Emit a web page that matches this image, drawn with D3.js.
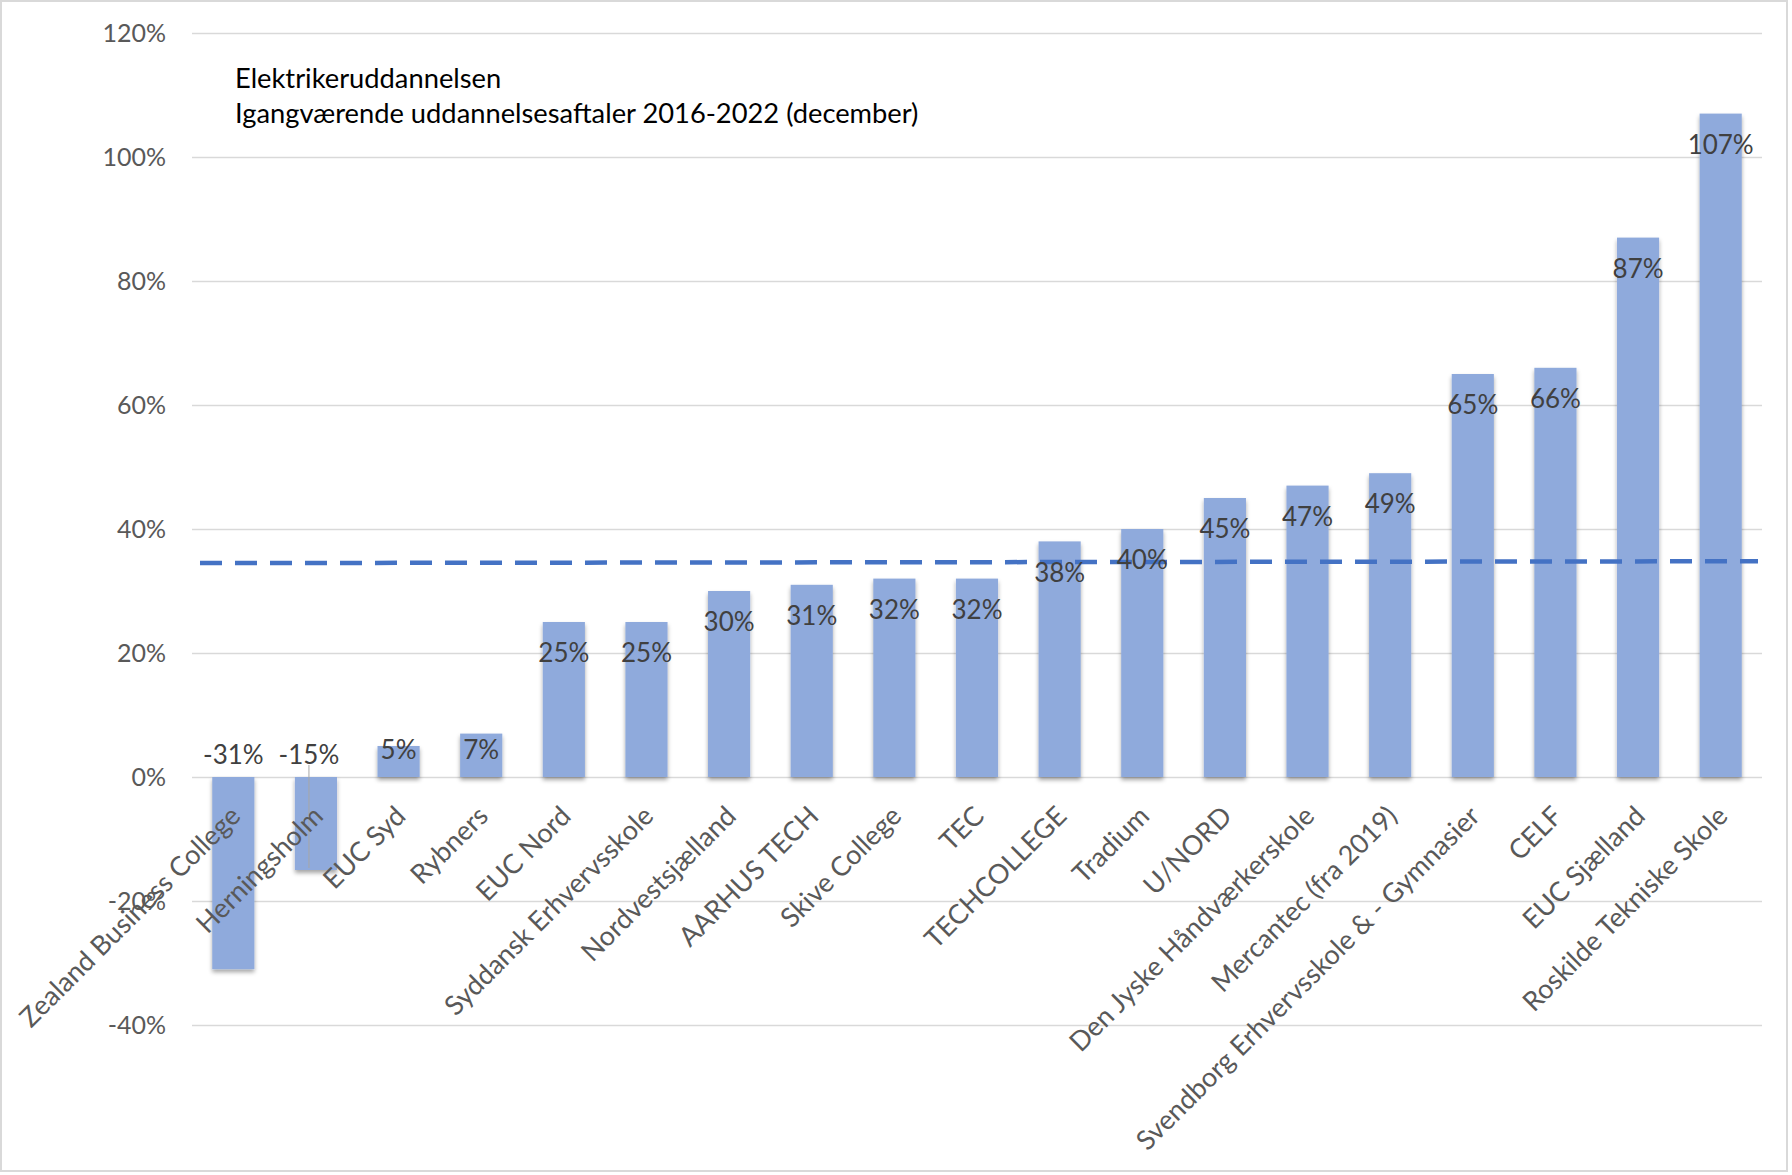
<!DOCTYPE html>
<html>
<head>
<meta charset="utf-8">
<script src="https://cdn.jsdelivr.net/npm/d3@7"></script>
<style>
  body { margin: 0; background: #fff; }
  svg, svg text { font-family: Lato, "Open Sans", sans-serif; }
  svg { display: block; }
</style>
</head>
<body>
<div id="chart"></div>
<script>
var width = 1792,
  height = 1175;

// Data
var categories = ["Zealand Business College", "Herningsholm", "EUC Syd", "Rybners", "EUC Nord",
  "Syddansk Erhvervsskole", "Nordvestsjælland", "AARHUS TECH", "Skive College", "TEC",
  "TECHCOLLEGE", "Tradium", "U/NORD", "Den Jyske Håndværkerskole", "Mercantec (fra 2019)",
  "Svendborg Erhvervsskole & - Gymnasier", "CELF", "EUC Sjælland", "Roskilde Tekniske Skole"];
var values = [-0.31, -0.15, 0.05, 0.07, 0.25, 0.25, 0.30, 0.31, 0.32, 0.32,
  0.38, 0.40, 0.45, 0.47, 0.49, 0.65, 0.66, 0.87, 1.07];
var yTicks = [-0.4, -0.2, 0, 0.2, 0.4, 0.6, 0.8, 1.0, 1.2];
var avgLine = [0.345, 0.348];   // dashed line, left end / right end
var titleLines = ["Elektrikeruddannelsen", "Igangværende uddannelsesaftaler 2016-2022 (december)"];

var margin = { left: 192, right: 30, top: 33, bottom: 150 };

var svg = d3.select("#chart")
  .append("svg")
  .attr("width", width)
  .attr("height", height);

// drop shadow for bars
svg.append("defs").append("filter")
  .attr("id", "shadow")
  .attr("x", "-20%").attr("y", "-20%").attr("width", "140%").attr("height", "140%")
  .append("feDropShadow")
  .attr("dx", 0).attr("dy", 3)
  .attr("stdDeviation", 2)
  .attr("flood-color", "#000")
  .attr("flood-opacity", 0.35);

// outer frame
svg.append("rect")
  .attr("x", 1).attr("y", 1)
  .attr("width", width - 6).attr("height", height - 5)
  .attr("fill", "#fff")
  .attr("stroke", "#d9d9d9")
  .attr("stroke-width", 2);

var x = d3.scaleBand()
  .domain(categories)
  .range([margin.left, width - margin.right])
  .paddingInner(0.49)
  .paddingOuter(0.245);

var y = d3.scaleLinear()
  .domain([-0.4, 1.2])
  .range([height - margin.bottom, margin.top]);

// plain hyphen as minus sign, like the original
var pct = d3.formatLocale({ decimal: ",", thousands: ".", grouping: [3], currency: ["", " kr."], minus: "-" })
  .format(".0%");

// y axis with gridlines
var yAxis = svg.append("g")
  .attr("transform", "translate(" + margin.left + ",0)")
  .call(d3.axisLeft(y)
    .tickValues(yTicks)
    .tickFormat(pct)
    .tickSize(-(width - margin.right - margin.left))
    .tickPadding(26));

yAxis.attr("font-family", null);
yAxis.select(".domain").remove();
yAxis.selectAll(".tick line")
  .attr("stroke", "#d9d9d9")
  .attr("stroke-width", 1.5);
yAxis.selectAll(".tick text")
  .attr("fill", "#595959")
  .style("font-size", "25px");

// title
svg.append("g")
  .selectAll("text")
  .data(titleLines)
  .enter()
  .append("text")
  .attr("x", 235)
  .attr("y", function (d, i) { return 88 + i * 35; })
  .attr("fill", "#000")
  .style("font-size", "27.3px")
  .text(function (d) { return d; });

// bars
svg.append("g")
  .selectAll("rect")
  .data(values)
  .enter()
  .append("rect")
  .attr("x", function (d, i) { return x(categories[i]); })
  .attr("y", function (d) { return y(Math.max(0, d)); })
  .attr("width", x.bandwidth())
  .attr("height", function (d) { return Math.abs(y(d) - y(0)); })
  .attr("fill", "#8faadc")
  .attr("filter", "url(#shadow)");

// dashed line
var xr = x.range();
svg.append("line")
  .attr("x1", xr[0] + 8)
  .attr("x2", xr[1] - 4)
  .attr("y1", y(avgLine[0]))
  .attr("y2", y(avgLine[1]))
  .attr("stroke", "#4472c4")
  .attr("stroke-width", 4.5)
  .attr("stroke-dasharray", "22,13");

// leader line for Herningsholm label
var hx = x("Herningsholm") + x.bandwidth() / 2 - 7;
svg.append("line")
  .attr("x1", hx).attr("x2", hx)
  .attr("y1", y(0) - 12)
  .attr("y2", y(values[1]) - 2)
  .attr("stroke", "#a6a6a6")
  .attr("stroke-width", 1);

// data labels
svg.append("g")
  .selectAll("text")
  .data(values)
  .enter()
  .append("text")
  .attr("x", function (d, i) {
    var cx = x(categories[i]) + x.bandwidth() / 2;
    return categories[i] === "Herningsholm" ? cx - 7 : cx;
  })
  .attr("y", function (d) {
    if (d < 0) return y(0) - 22;
    return Math.min(y(d) + 31, y(0) - 27);
  })
  .attr("dy", "0.35em")
  .attr("text-anchor", "middle")
  .attr("fill", "#404040")
  .style("font-size", "26px")
  .text(function (d) { return pct(d); });

// category labels, rotated
var xAxis = svg.append("g")
  .attr("transform", "translate(0," + y(0) + ")")
  .call(d3.axisBottom(x).tickSize(0).tickPadding(0));

xAxis.attr("font-family", null);
xAxis.select(".domain").remove();
xAxis.selectAll(".tick text")
  .attr("fill", "#595959")
  .style("font-size", "27px")
  .attr("text-anchor", "end")
  .attr("dy", "0.35em")
  .attr("transform", "translate(2,34) rotate(-45)");
</script>
</body>
</html>
